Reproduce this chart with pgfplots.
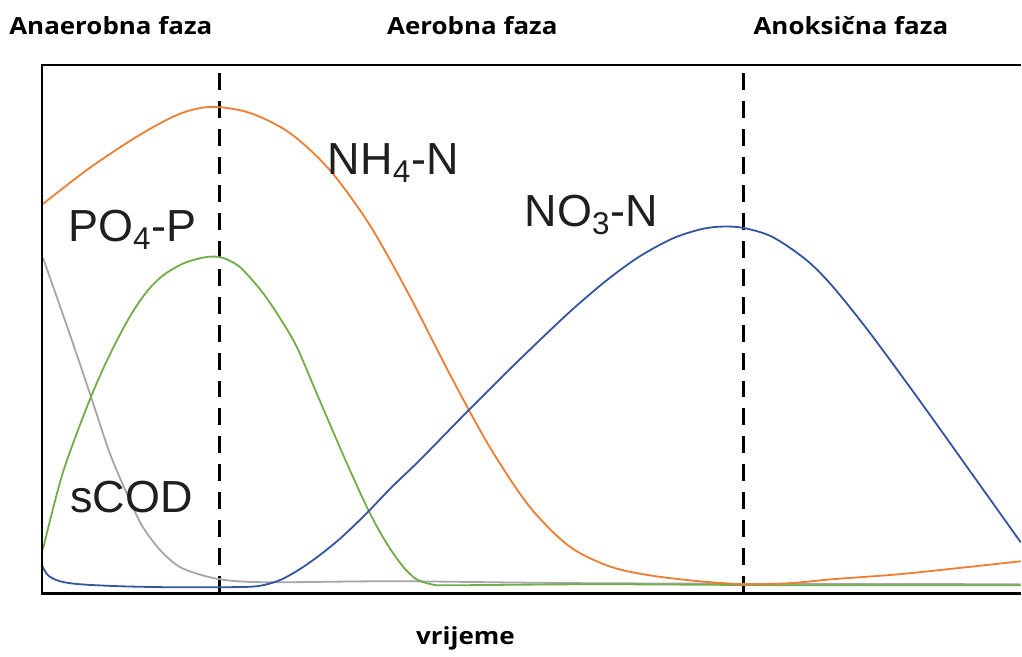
\documentclass[border=0pt]{standalone}
\usepackage{pgfplots}
\pgfplotsset{compat=1.18}
\usepackage{fontspec}
\setmainfont{Liberation Sans}
\newfontfamily\headfont{Open Sans}[FakeStretch=1.1]

\definecolor{nhorange}{RGB}{237,125,49}
\definecolor{pogreen}{RGB}{112,173,71}
\definecolor{noblue}{RGB}{52,84,160}
\definecolor{codgray}{RGB}{165,165,170}

\begin{document}
\begin{tikzpicture}
\begin{axis}[
    scale only axis,
    width=490pt, height=264.5pt,
    xmin=0, xmax=980, ymin=0, ymax=529,
    hide axis,
    clip=false,
    every axis plot/.append style={line width=0.9pt, smooth, no markers},
]
% phase boundaries
\addplot[black, line width=1.5pt, dash pattern=on 8.5pt off 5.5pt, sharp plot] coordinates {(178,0) (178,529)};
\addplot[black, line width=1.5pt, dash pattern=on 8.5pt off 5.5pt, sharp plot] coordinates {(702,0) (702,529)};

% sCOD
\addplot[codgray] coordinates {(1,336) (28,259) (48,200) (68,140) (88,93) (100,68) (115,47) (130,32) (145,23) (178,14) (225,11) (358,12) (558,10) (980,9)};
% PO4-P
\addplot[pogreen] coordinates {(1,44) (21,121) (48,194) (68,239) (88,277) (105,302) (121,318) (141,330) (161,336) (174,337) (186,334) (200,325) (221,301) (238,276) (255,247) (273,205) (291,163) (308,124) (325,87) (338,62) (351,41) (363,25) (375,14) (390,9) (410,8) (558,9) (758,8) (980,8)};
% NH4-N
\addplot[nhorange] coordinates {(0,389) (48,426) (98,459) (138,480) (170,487) (208,481) (248,461) (288,424) (328,369) (368,298) (408,220) (448,147) (488,87) (528,47) (568,27) (608,18) (658,12) (703,9) (748,10) (791,14) (858,19) (925,26) (980,32)};
% NO3-N
\addplot[noblue] coordinates {(0,28) (6,18) (18,12) (38,9) (78,7) (128,6) (178,6) (215,7) (238,13) (258,24) (278,38) (300,56) (325,80) (350,106) (378,133) (425,181) (463,219) (498,253) (531,284) (565,313) (598,337) (631,355) (658,364) (678,367) (701,366) (731,357) (765,334) (791,308) (828,262) (878,194) (928,124) (980,51)};

% frame (open on the right)
\draw[black, line width=1.3pt] (rel axis cs:1,1) -- (rel axis cs:0,1) -- (rel axis cs:0,0) -- (rel axis cs:1,0);

% curve labels
\node[anchor=base west, inner sep=0pt, font=\fontsize{22.5pt}{26pt}\selectfont, text=black!88] at (axis cs:286,419) {NH\textsubscript{4}-N};
\node[anchor=base west, inner sep=0pt, font=\fontsize{22.5pt}{26pt}\selectfont, text=black!88] at (axis cs:26,352) {PO\textsubscript{4}-P};
\node[anchor=base west, inner sep=0pt, font=\fontsize{22.5pt}{26pt}\selectfont, text=black!88] at (axis cs:483,367) {NO\textsubscript{3}-N};
\node[anchor=base west, inner sep=0pt, font=\fontsize{22.5pt}{26pt}\selectfont, text=black!88] at (axis cs:28,81) {sCOD};

% phase titles and axis label
\node[anchor=base, inner sep=0pt, font=\headfont\bfseries\fontsize{11.8pt}{14pt}\selectfont] at (axis cs:69,559) {Anaerobna faza};
\node[anchor=base, inner sep=0pt, font=\headfont\bfseries\fontsize{11.8pt}{14pt}\selectfont] at (axis cs:431,559) {Aerobna faza};
\node[anchor=base, inner sep=0pt, font=\headfont\bfseries\fontsize{11.8pt}{14pt}\selectfont] at (axis cs:810,559) {Anoksična faza};
\node[anchor=base, inner sep=0pt, font=\headfont\bfseries\fontsize{11.8pt}{14pt}\selectfont] at (axis cs:424,-51) {vrijeme};

% picture bounds
\path (axis cs:-42,-63) rectangle (axis cs:980,594);
\end{axis}
\end{tikzpicture}
\end{document}
